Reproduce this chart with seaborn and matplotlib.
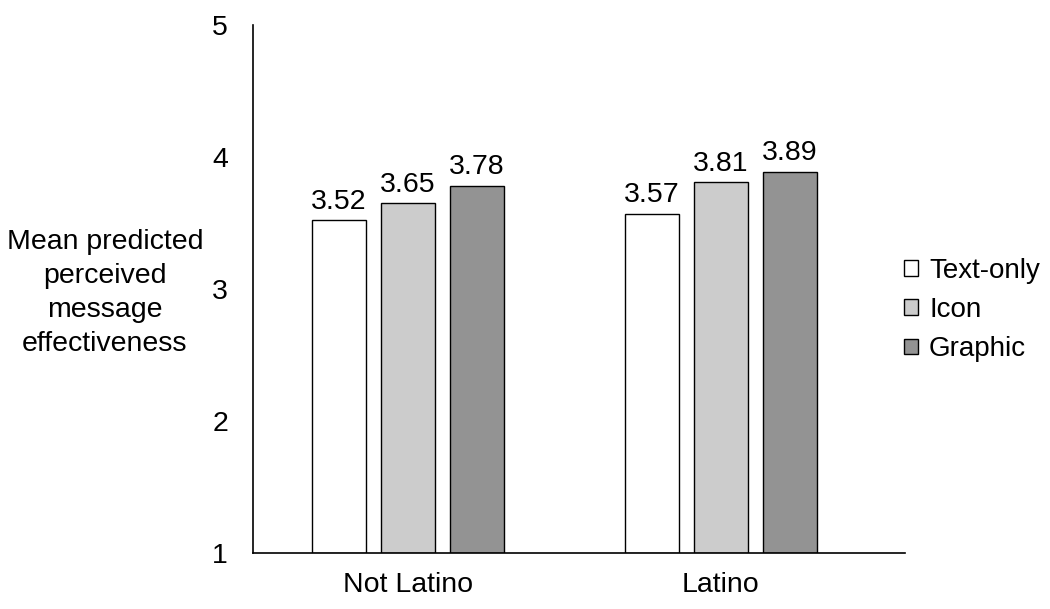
import matplotlib
matplotlib.use("Agg")
import matplotlib.pyplot as plt
import seaborn as sns
import pandas as pd
from matplotlib.patches import Patch

groups = ["Not Latino", "Latino"]
conditions = ["Text-only", "Icon", "Graphic"]
values_not_latino = [3.52, 3.65, 3.78]
values_latino = [3.57, 3.81, 3.89]
colors = ["#ffffff", "#cccccc", "#939393"]

rows = []
for g, vals in zip(groups, [values_not_latino, values_latino]):
    for c, v in zip(conditions, vals):
        rows.append({"group": g, "condition": c, "value": v})
df = pd.DataFrame(rows)

sns.set_theme(style="white")
plt.rcParams["font.family"] = ["Liberation Sans", "DejaVu Sans"]
plt.rcParams["text.color"] = "black"
FS = 20.5

fig = plt.figure(figsize=(10.5, 6.09), dpi=100)
ax = fig.add_axes([253/1050, 56/609, (905-253)/1050, (553-25)/609])

sns.barplot(data=df, x="group", y="value", hue="condition", order=groups,
            hue_order=conditions, palette=colors, width=0.66, gap=0.216,
            edgecolor="black", linewidth=1.0, ax=ax, legend=False)

# bars start at 1 (axis baseline)
ax.set_ylim(1, 5)
for p in ax.patches:
    h = p.get_height()
    p.set_y(1)
    p.set_height(h - 1)

for cont in ax.containers:
    labels = [f"{v:.2f}" for v in cont.datavalues]
    ax.bar_label(cont, labels=labels, padding=4, fontsize=FS, color="black")

ax.set_xlim(-0.495, 1.588)
ax.set_yticks([1, 2, 3, 4, 5])
ax.tick_params(axis="both", length=0, labelsize=FS, colors="black")
ax.tick_params(axis="y", pad=18)
ax.tick_params(axis="x", pad=14)
ax.set_xlabel("")
ax.set_ylabel("Mean predicted\nperceived\nmessage\neffectiveness", rotation=0,
              fontsize=FS, color="black", ha="center", va="center", linespacing=1.4)
ax.yaxis.set_label_coords(-0.227, 0.492)

for s in ["top", "right"]:
    ax.spines[s].set_visible(False)
for s in ["left", "bottom"]:
    ax.spines[s].set_color("black")
    ax.spines[s].set_linewidth(1.2)

handles = [Patch(facecolor=c, edgecolor="black", linewidth=1.0) for c in colors]
fig.legend(handles, conditions, loc="center left", bbox_to_anchor=(879/1050, 1 - 310/609),
           frameon=False, fontsize=20, handlelength=0.5, handleheight=0.5,
           handletextpad=0.4, labelspacing=0.48, labelcolor="black")

fig.savefig("out.png", dpi=100)
